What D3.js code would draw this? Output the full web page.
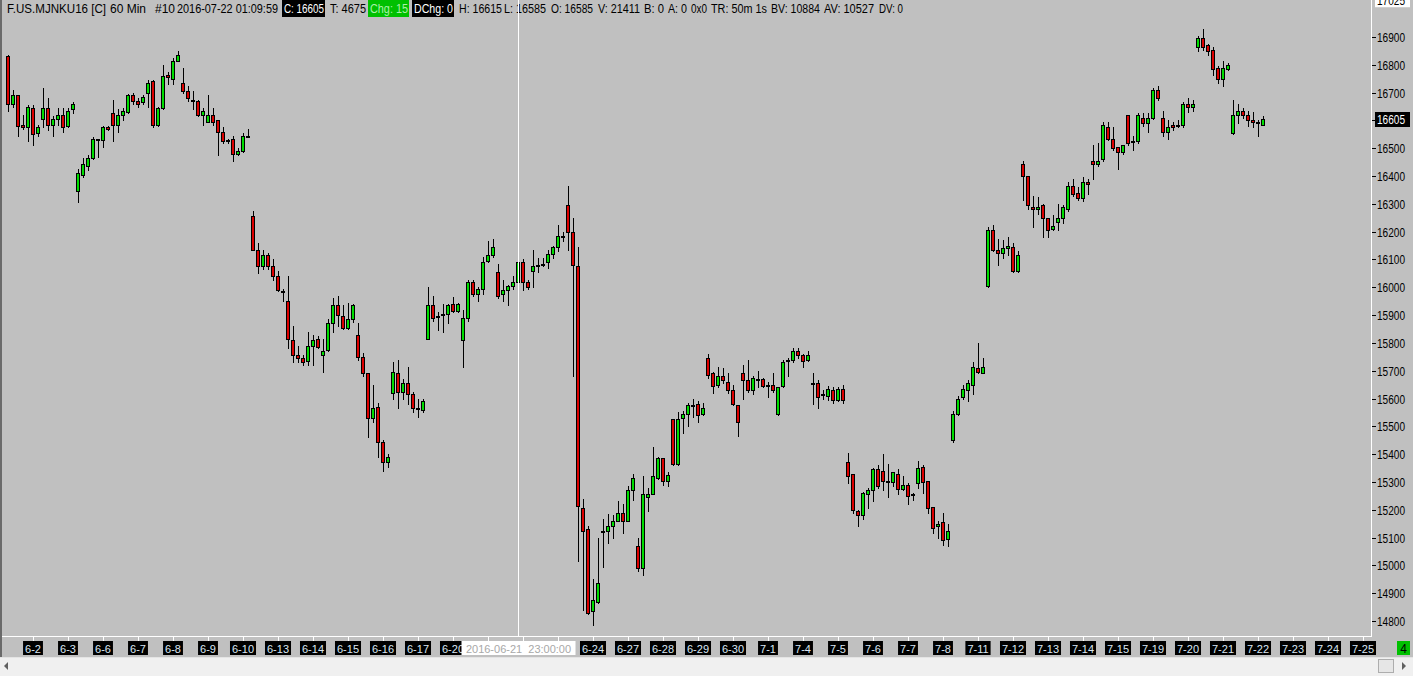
<!DOCTYPE html>
<html>
<head>
<meta charset="utf-8">
<script src="https://cdn.jsdelivr.net/npm/d3@7/dist/d3.min.js"></script>
<style>
html, body { margin: 0; padding: 0; background: #c0c0c0; overflow: hidden; }
svg { display: block; }
text { font-family: "Liberation Sans", Arial, sans-serif; }
</style>
</head>
<body>
<svg id="chart"></svg>
<script>
// 60 min bars, F.US.MJNKU16, 2016-06-02 .. 2016-07-22
const open = [16830,16660,16690,16585,16575,16645,16555,16605,16645,16585,16605,16620,16580,16640,16345,16405,16435,16465,16530,16530,16575,16625,16585,16620,16630,16690,16670,16665,16700,16740,16585,16645,16765,16750,16815,16735,16705,16675,16670,16620,16595,16620,16600,16560,16525,16535,16480,16490,16545,
  16255,16135,16075,16115,16075,16040,15985,15950,15810,15755,15745,15735,15790,15815,15755,15775,15870,15935,15895,15855,15885,15830,15750,15690,15530,15570,15445,15370,15620,15690,15625,15655,15615,15565,15560,15815,15935,15895,15905,15905,15940,15915,15810,15890,16020,15975,15995,16095,16115,16055,15975,
  15990,16005,16020,16090,16020,16060,16075,16085,16090,16120,16145,16180,16295,16200,16075,15205,15130,14835,14870,15125,15125,15140,15160,15190,15160,15270,
  15070,14990,15245,15255,15315,15385,15305,15525,15365,15530,15545,15575,15580,15545,15745,15690,15650,15680,15660,15630,15575,15690,15665,15630,15670,15670,15650,15650,15545,15645,15740,15740,15770,15755,15740,15655,15655,15615,15610,15630,15595,15635,
  15370,15330,15195,15180,15255,15270,15345,15340,15305,15300,15330,15275,15290,15255,15295,15355,15305,15210,15140,15155,15095,15450,15545,15605,15630,15650,15710,15690,
  16005,16205,16135,16125,16140,16145,16060,16445,16400,16290,16280,16295,16250,16210,16235,16250,16280,16365,16340,16320,16380,16455,16445,16460,16575,16535,16505,16485,
  16620,16525,16525,16610,16590,16610,16710,16610,16560,16585,16580,16585,16660,16650,16865,16895,16870,16855,16790,16750,16785,16555,16620,16635,16620,16600,16595,16585];
const high = [16835,16710,16690,16620,16655,16655,16585,16715,16680,16615,16645,16645,16645,16665,16425,16465,16475,16540,16535,16580,16580,16675,16640,16645,16695,16700,16680,16690,16745,16745,16650,16800,16775,16825,16850,16790,16725,16705,16675,16645,16690,16645,16600,16575,16535,16545,16500,16555,16570,
  16275,16160,16135,16125,16100,16060,15995,16040,15860,15790,15755,15840,15830,15825,15815,15885,15960,15970,15935,15945,15940,15870,15765,15690,15650,15585,15450,15400,15730,15740,15670,15715,15625,15600,15600,16000,15970,15910,15940,15940,15965,15945,15920,16025,16025,16000,16110,16165,16175,16085,16025,
  16010,16040,16115,16100,16025,16135,16105,16105,16135,16150,16225,16200,16365,16250,16145,15240,15140,14950,15100,15165,15185,15180,15230,15220,15285,15330,
  15100,15320,15280,15425,15390,15385,15335,15525,15550,15555,15585,15600,15590,15585,15760,15695,15715,15710,15690,15650,15575,15720,15740,15680,15700,15675,15660,15690,15640,15740,15745,15780,15780,15760,15770,15690,15665,15630,15645,15640,15640,15650,
  15405,15330,15200,15265,15280,15350,15360,15400,15365,15335,15345,15320,15295,15260,15375,15360,15305,15210,15160,15190,15150,15555,15610,15650,15665,15730,15800,15745,
  16215,16225,16175,16170,16180,16160,16130,16455,16400,16330,16325,16300,16250,16260,16300,16295,16380,16390,16360,16395,16390,16510,16520,16595,16595,16575,16505,16510,
  16620,16545,16625,16625,16625,16715,16725,16635,16600,16595,16600,16665,16680,16675,16905,16930,16875,16865,16795,16815,16805,16675,16660,16645,16635,16630,16600,16615];
const low = [16635,16650,16545,16570,16525,16510,16545,16575,16565,16545,16585,16560,16575,16625,16305,16395,16420,16460,16470,16505,16565,16525,16560,16600,16625,16660,16650,16660,16650,16575,16580,16640,16730,16730,16815,16700,16670,16640,16615,16585,16595,16585,16475,16520,16520,16455,16475,16485,16540,
  16135,16050,16065,16065,16025,15985,15950,15780,15730,15730,15720,15720,15720,15780,15695,15770,15840,15860,15850,15850,15875,15740,15680,15460,15515,15390,15340,15355,15600,15565,15600,15580,15550,15535,15550,15815,15880,15845,15840,15870,15910,15910,15715,15880,15970,15950,15975,16090,16110,15960,15950,
  15935,15995,16015,15990,15995,16000,16055,16075,16070,16105,16130,16165,16135,15680,15015,14840,14825,14785,14865,14995,15080,15100,15160,15115,15160,15235,
  14980,14965,15195,15255,15310,15290,15285,15360,15360,15475,15500,15535,15515,15540,15675,15620,15640,15655,15620,15575,15465,15600,15625,15615,15640,15640,15605,15625,15540,15640,15680,15730,15745,15715,15735,15580,15565,15600,15595,15585,15590,15585,
  15295,15190,15140,15165,15205,15230,15280,15270,15245,15285,15255,15270,15220,15235,15280,15260,15190,15115,15100,15075,15070,15445,15540,15600,15590,15615,15690,15690,
  16000,16130,16080,16105,16115,16055,16055,16315,16280,16215,16265,16180,16180,16205,16205,16230,16275,16330,16315,16310,16335,16390,16435,16455,16530,16495,16425,16480,
  16510,16495,16520,16580,16560,16605,16675,16545,16535,16565,16575,16575,16630,16635,16850,16855,16835,16765,16735,16725,16780,16550,16590,16610,16580,16575,16545,16585];
const close = [16660,16690,16580,16575,16650,16550,16575,16645,16585,16605,16620,16575,16635,16660,16410,16445,16465,16535,16535,16575,16570,16585,16620,16635,16690,16670,16660,16685,16735,16585,16645,16760,16755,16815,16835,16705,16680,16670,16620,16635,16620,16595,16560,16525,16530,16480,16490,16545,16545,
  16135,16075,16115,16075,16040,15990,15985,15815,15755,15745,15730,15790,15810,15785,15770,15870,15935,15900,15855,15885,15935,15750,15690,15530,15565,15445,15370,15390,15695,15625,15655,15615,15565,15565,15590,15935,15890,15895,15905,15935,15915,15940,15890,16020,15975,15995,16090,16115,16145,15970,15990,
  16005,16020,16090,16020,16000,16075,16080,16085,16120,16145,16185,16185,16200,16080,15215,15125,14830,14875,14935,15125,15140,15160,15190,15160,15270,15315,
  14990,15255,15255,15320,15385,15305,15325,15365,15525,15545,15575,15575,15540,15565,15685,15645,15680,15665,15630,15580,15515,15665,15630,15675,15665,15645,15650,15630,15640,15730,15740,15770,15755,15735,15755,15655,15605,15615,15635,15595,15635,15595,
  15320,15200,15180,15260,15270,15345,15285,15305,15305,15335,15275,15290,15250,15255,15350,15300,15205,15135,15150,15090,15125,15545,15600,15635,15655,15715,15695,15715,
  16205,16135,16125,16140,16150,16060,16115,16400,16295,16280,16290,16250,16205,16220,16250,16290,16365,16335,16320,16380,16370,16445,16455,16585,16535,16500,16485,16510,
  16520,16525,16620,16590,16610,16710,16680,16560,16575,16575,16585,16660,16650,16660,16895,16865,16850,16785,16750,16790,16800,16620,16635,16620,16600,16595,16595,16605];

// trading days on the time axis (incl. the empty days at the right edge)
const days = ["6-2","6-3","6-6","6-7","6-8","6-9","6-10","6-13","6-14","6-15","6-16","6-17","6-20","6-21","6-22","6-23","6-24",
  "6-27","6-28","6-29","6-30","7-1","7-4","7-5","7-6","7-7","7-8","7-11","7-12","7-13","7-14","7-15","7-19","7-20","7-21","7-22",
  "7-23","7-24","7-25"];
const barsPerDay = 7;

const priceTicks = [14800,14900,15000,15100,15200,15300,15400,15500,15600,15700,15800,15900,
  16000,16100,16200,16300,16400,16500,16600,16700,16800,16900];
const chartTop = 17025;

const crossIndex = 102;
const crossLabel = "2016-06-21  23:00:00";

const headerText = ["F.US.MJNKU16 [C]","60 Min","#10","2016-07-22 01:09:59","C: 16605","T: 4675","Chg: 15","DChg: 0",
  "H: 16615","L: 16585","O: 16585","V: 21411","B: 0","A: 0","0x0","TR: 50m 1s","BV: 10884","AV: 10527","DV: 0"];
// header layout: [x, width, style]
const headerLayout = [[7,99,""],[110,36,""],[155,20,""],[177,101,""],[284,40,"dark"],[330,36,""],[370,38,"up"],[414,39,"dark"],
  [459,43,""],[504,42,""],[551,42,""],[598,42,""],[644,20,""],[668,19,""],[691,16,""],[711,56,""],[771,49,""],[824,50,""],[879,24,""]];

const W = 1413, H = 676;
const plotRight = 1371, plotBottom = 636;

const svg = d3.select('#chart').attr('width', W).attr('height', H);
svg.append('rect').attr('width', W).attr('height', H).attr('fill', '#c0c0c0');

//scales
const x = d3.scaleLinear().domain([0, close.length - 1]).range([8, 8 + 5 * (close.length - 1)]);
const y = d3.scaleLinear().domain([14800, 16900]).range([621, 37]);

const bars = close.map((c, i) => ({ i, o: open[i], h: high[i], l: low[i], c }));

//candles
const plot = svg.append('g');
plot.selectAll('line.wick')
  .data(bars)
  .join('line')
  .attr('class', 'wick')
  .attr('x1', d => x(d.i) + 0.5)
  .attr('x2', d => x(d.i) + 0.5)
  .attr('y1', d => Math.round(y(d.h)))
  .attr('y2', d => Math.round(y(d.l)) + 1)
  .attr('stroke', '#000')
  .attr('stroke-width', 1);

plot.selectAll('rect.body')
  .data(bars)
  .join('rect')
  .attr('class', 'body')
  .attr('x', d => x(d.i) - 0.5 - 1)
  .attr('y', d => Math.round(y(Math.max(d.o, d.c))) + 0.5)
  .attr('width', 3)
  .attr('height', d => Math.max(1, Math.round(y(Math.min(d.o, d.c))) - Math.round(y(Math.max(d.o, d.c)))))
  .attr('fill', d => d.c > d.o ? '#00dc00' : d.c < d.o ? '#dc0000' : '#000')
  .attr('stroke', '#000')
  .attr('stroke-width', 1);

//frame
svg.append('rect').attr('x', 0).attr('y', 0).attr('width', 2).attr('height', 657).attr('fill', '#6a6a6a');
svg.append('line').attr('x1', 2).attr('x2', plotRight + 1).attr('y1', plotBottom + 0.5).attr('y2', plotBottom + 0.5).attr('stroke', '#fff');
svg.append('line').attr('x1', plotRight + 0.5).attr('x2', plotRight + 0.5).attr('y1', 0).attr('y2', plotBottom + 1).attr('stroke', '#fff');

//price axis
const yAxis = svg.append('g');
yAxis.selectAll('line').data(priceTicks).join('line')
  .attr('x1', plotRight + 1).attr('x2', plotRight + 5)
  .attr('y1', d => Math.round(y(d)) + 0.5).attr('y2', d => Math.round(y(d)) + 0.5)
  .attr('stroke', '#000');
yAxis.selectAll('text').data(priceTicks).join('text')
  .attr('x', plotRight + 6)
  .attr('y', d => Math.round(y(d)) + 4.5)
  .attr('font-size', 12)
  .attr('textLength', 28).attr('lengthAdjust', 'spacingAndGlyphs')
  .attr('fill', '#000')
  .text(d => d);

// top of range marker (clipped by the window)
const topY = y(chartTop);
svg.append('rect').attr('x', plotRight + 4).attr('y', topY - 8).attr('width', 35).attr('height', 13).attr('fill', '#fff');
svg.append('text').attr('x', plotRight + 6).attr('y', topY + 3).attr('font-size', 12)
  .attr('textLength', 28).attr('lengthAdjust', 'spacingAndGlyphs').attr('fill', '#000').text(chartTop);

// last price
const last = close[close.length - 1];
const lastY = Math.round(y(last));
svg.append('rect').attr('x', plotRight + 4).attr('y', lastY - 7).attr('width', 35).attr('height', 15).attr('fill', '#000');
svg.append('text').attr('x', plotRight + 6).attr('y', lastY + 4.5).attr('font-size', 12)
  .attr('textLength', 28).attr('lengthAdjust', 'spacingAndGlyphs').attr('fill', '#fff').text(last);

//time axis
const cx = x(crossIndex) + 0.5;
const crossHalf = 57;
const tickX = i => Math.round(x(i * barsPerDay + 5));
const xAxis = svg.append('g');
xAxis.selectAll('line').data(days).join('line')
  .attr('x1', (d, i) => tickX(i) + 0.5).attr('x2', (d, i) => tickX(i) + 0.5)
  .attr('y1', plotBottom + 1).attr('y2', plotBottom + 5)
  .attr('stroke', '#fff');
// labels that sit wholly under the crosshair date box are not drawn (hidden there in the original too)
const dayLabels = days.map((d, i) => ({ d, tx: tickX(i) }))
  .filter(o => Math.abs(o.tx - cx) + 12 > crossHalf);
const xl = xAxis.selectAll('g.lbl').data(dayLabels).join('g').attr('class', 'lbl')
  .attr('transform', o => `translate(${o.tx},0)`);
xl.append('rect').attr('y', 641).attr('height', 14).attr('fill', '#000');
xl.append('text').attr('y', 652.5).attr('text-anchor', 'middle').attr('font-size', 11)
  .attr('fill', '#dbe7f4').text(o => o.d);
xl.each(function () {
  const g = d3.select(this);
  const w = g.select('text').node().getComputedTextLength() + 4;
  g.select('rect').attr('x', -w / 2).attr('width', w);
});

//crosshair
svg.append('line').attr('x1', cx).attr('x2', cx).attr('y1', 0).attr('y2', plotBottom).attr('stroke', '#fff');
svg.append('rect').attr('x', cx - crossHalf).attr('y', 641).attr('width', crossHalf * 2).attr('height', 14).attr('fill', '#fff');
svg.append('text').attr('x', cx).attr('y', 652.5).attr('text-anchor', 'middle').attr('font-size', 11)
  .attr('xml:space', 'preserve').attr('fill', '#a8a8a8').text(crossLabel);

//bar counter box
svg.append('rect').attr('x', 1397).attr('y', 641).attr('width', 13).attr('height', 14).attr('fill', '#00c000');
svg.append('text').attr('x', 1403.5).attr('y', 652.5).attr('text-anchor', 'middle').attr('font-size', 12).attr('fill', '#000').text('4');

//header
const hdr = svg.append('g');
headerText.forEach((t, k) => {
  const [hx, hw, st] = headerLayout[k];
  if (st) {
    hdr.append('rect').attr('x', hx - 2).attr('y', 0).attr('width', hw + 3).attr('height', 17)
      .attr('fill', st === 'up' ? '#00c000' : '#000');
  }
  hdr.append('text').attr('x', hx).attr('y', 13).attr('font-size', 12)
    .attr('textLength', hw).attr('lengthAdjust', 'spacingAndGlyphs')
    .attr('fill', st === 'dark' ? '#fff' : st === 'up' ? '#a8f0a8' : '#000')
    .text(t);
});
// crosshair runs through the header too
svg.append('line').attr('x1', cx).attr('x2', cx).attr('y1', 0).attr('y2', 18).attr('stroke', '#fff');

//scrollbar
svg.append('rect').attr('x', 0).attr('y', 657).attr('width', W).attr('height', 19).attr('fill', '#f0f0f0');
svg.append('line').attr('x1', 0).attr('x2', W).attr('y1', 657.5).attr('y2', 657.5).attr('stroke', '#e4e4e4');
svg.append('path').attr('d', 'M8,662L4,666L8,670Z').attr('fill', '#606060');
svg.append('path').attr('d', 'M1402,662L1406,666L1402,670Z').attr('fill', '#606060');
svg.append('rect').attr('x', 1378.5).attr('y', 659.5).attr('width', 15).attr('height', 13)
  .attr('fill', '#e6e6e6').attr('stroke', '#adadad');
</script>
</body>
</html>
